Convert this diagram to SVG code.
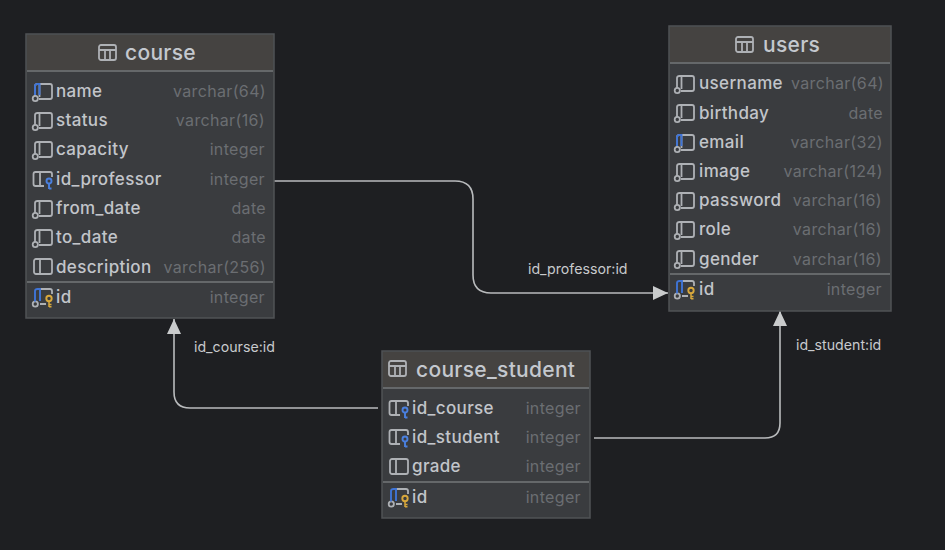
<svg xmlns="http://www.w3.org/2000/svg" width="945" height="550" viewBox="0 0 945 550">
<style>
text{font-family:Inter,"Noto Sans",sans-serif}
.tb{fill:#3a3c3f;stroke:#505356;stroke-width:1.500}
.hd{fill:#454341}
.sep{stroke:#65686a;stroke-width:2}
.t{font-size:21px;font-weight:500;fill:#c4c8ce;letter-spacing:.3px}
.n{font-size:17px;font-weight:500;fill:#c2c5ca;letter-spacing:.35px}
.y{font-size:16px;fill:#6b6e72;text-anchor:end;letter-spacing:.35px}
.l{font-size:14.200px;fill:#c8cacd}
.c{fill:none;stroke:#b9bbbd;stroke-width:1.600}
.i{fill:none;stroke:#aeb1b5;stroke-width:1.800}
</style>
<defs>
<marker id="a" markerUnits="userSpaceOnUse" markerWidth="16" markerHeight="16" refX="15" refY="8" orient="auto"><path d="M0 1L15 8L0 15Z" fill="#c9cbcc"/></marker>
<g id="tbl"><rect x="0" y="0" width="17" height="15" rx="2" class="i"/><path d="M0 5H17M6 5V15M11 5V15" class="i"/></g>
<g id="col"><path d="M2 13V3Q2 1 4.500 1H17Q19 1 19 3V14Q19 16 17 16H6" class="i"/><path d="M6.500 1V14" class="i"/><circle cx="2.300" cy="15.500" r="2.600" class="i"/></g>
<g id="colb"><use href="#col"/><path d="M2 12V3Q2 1 4.500 1H6.500V12" fill="none" stroke="#3f74d6" stroke-width="1.900"/></g>
<g id="plain"><rect x="1" y="1" width="18" height="15" rx="2" class="i"/><path d="M7 1V16" class="i"/></g>
<g id="fk"><path d="M11 15H2.500Q.5 15 .5 13V3Q.5 1 2.500 1H17Q19 1 19 3V6M7 1V15" class="i"/><circle cx="16" cy="10" r="2.500" fill="none" stroke="#4a80e0" stroke-width="1.900"/><path d="M16 12.500V18M16 17.500H18.500" fill="none" stroke="#4a80e0" stroke-width="1.900"/></g>
<g id="pk"><path d="M7 16H13M19 6V3Q19 1 17 1H7" class="i"/><circle cx="2.300" cy="16" r="2.600" class="i"/><path d="M2 13.500V3Q2 1 4.500 1H7V13" fill="none" stroke="#3f74d6" stroke-width="1.900"/><circle cx="16" cy="10.500" r="2.700" fill="none" stroke="#d8a83c" stroke-width="1.900"/><path d="M16 13V19M16 16.500H18.500M16 18.800H18.500" fill="none" stroke="#d8a83c" stroke-width="1.500"/></g>
</defs>
<rect width="945" height="550" fill="#1e1f22"/>
<g id="connectors">
<path class="c" marker-end="url(#a)" d="M274 181H455Q473 181 473 199V275Q473 293 491 293H668"/>
<path class="c" marker-end="url(#a)" d="M378 408H190Q174 408 174 392V319"/>
<path class="c" marker-end="url(#a)" d="M594 438H765Q780 438 780 423V311"/>
<text class="l" x="528" y="274">id_professor:id</text>
<text class="l" x="194" y="352">id_course:id</text>
<text class="l" x="796" y="350">id_student:id</text>
</g>
<g id="course">
<rect class="tb" x="26" y="34" width="248" height="284"/>
<rect class="hd" x="27" y="35" width="246" height="35"/>
<path class="sep" d="M27 71H273M27 282H273"/>
<use href="#tbl" x="99" y="45"/>
<text class="t" x="125" y="60">course</text>
<use href="#colb" x="33" y="83"/><text class="n" x="56" y="97">name</text><text class="y" x="266" y="97">varchar(64)</text>
<use href="#col" x="33" y="112"/><text class="n" x="56" y="126">status</text><text class="y" x="265" y="126">varchar(16)</text>
<use href="#col" x="33" y="141"/><text class="n" x="56" y="155">capacity</text><text class="y" x="265" y="155">integer</text>
<use href="#fk" x="33" y="171"/><text class="n" x="56" y="185">id_professor</text><text class="y" x="265" y="185">integer</text>
<use href="#col" x="33" y="200"/><text class="n" x="56" y="214">from_date</text><text class="y" x="266" y="214">date</text>
<use href="#col" x="33" y="229"/><text class="n" x="56" y="243">to_date</text><text class="y" x="266" y="243">date</text>
<use href="#plain" x="33" y="258"/><text class="n" x="56" y="273">description</text><text class="y" x="266" y="273">varchar(256)</text>
<use href="#pk" x="33" y="288"/><text class="n" x="56" y="303">id</text><text class="y" x="265" y="303">integer</text>
</g>
<g id="users">
<rect class="tb" x="669" y="26" width="222" height="285"/>
<rect class="hd" x="670" y="27" width="220" height="35"/>
<path class="sep" d="M670 63H890M670 274H890"/>
<use href="#tbl" x="736" y="37"/>
<text class="t" x="763" y="52">users</text>
<use href="#col" x="675" y="75"/><text class="n" x="699" y="89">username</text><text class="y" x="884" y="89">varchar(64)</text>
<use href="#col" x="675" y="104"/><text class="n" x="699" y="119">birthday</text><text class="y" x="883" y="119">date</text>
<use href="#colb" x="675" y="134"/><text class="n" x="699" y="148">email</text><text class="y" x="883" y="148">varchar(32)</text>
<use href="#col" x="675" y="163"/><text class="n" x="699" y="177">image</text><text class="y" x="883" y="177">varchar(124)</text>
<use href="#col" x="675" y="192"/><text class="n" x="699" y="206">password</text><text class="y" x="882" y="206">varchar(16)</text>
<use href="#col" x="675" y="221"/><text class="n" x="699" y="235">role</text><text class="y" x="882" y="235">varchar(16)</text>
<use href="#col" x="675" y="250"/><text class="n" x="699" y="265">gender</text><text class="y" x="882" y="265">varchar(16)</text>
<use href="#pk" x="675" y="280"/><text class="n" x="699" y="295">id</text><text class="y" x="882" y="295">integer</text>
</g>
<g id="course_student">
<rect class="tb" x="382" y="351" width="208" height="167"/>
<rect class="hd" x="383" y="352" width="206" height="35"/>
<path class="sep" d="M383 388H589M383 482H589"/>
<use href="#tbl" x="389" y="361"/>
<text class="t" x="416" y="377">course_student</text>
<use href="#fk" x="389" y="400"/><text class="n" x="412" y="414">id_course</text><text class="y" x="581" y="414">integer</text>
<use href="#fk" x="389" y="429"/><text class="n" x="412" y="443">id_student</text><text class="y" x="581" y="443">integer</text>
<use href="#plain" x="389" y="458"/><text class="n" x="412" y="472">grade</text><text class="y" x="581" y="472">integer</text>
<use href="#pk" x="389" y="488"/><text class="n" x="412" y="503">id</text><text class="y" x="581" y="503">integer</text>
</g>
</svg>
